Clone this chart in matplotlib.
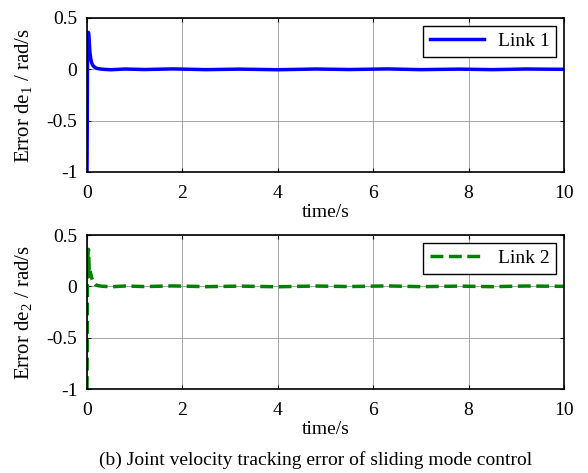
import matplotlib
matplotlib.use("Agg")
import matplotlib.pyplot as plt

plt.rcParams['font.family'] = ['Liberation Serif', 'DejaVu Serif']
plt.rcParams['mathtext.fontset'] = 'custom'
plt.rcParams['mathtext.rm'] = 'Liberation Serif'

# sampled tracking error, link 1
t1 = [0.0, 0.005, 0.01, 0.02, 0.03, 0.04, 0.05, 0.06, 0.08, 0.10, 0.12, 0.15, 0.18,
      0.22, 0.28, 0.35, 0.5, 0.8, 1.2, 1.8, 2.5, 3.2, 4.0, 4.8, 5.5, 6.3, 7.0, 7.8,
      8.5, 9.2, 10.0]
e1 = [-1.0, -0.6, 0.05, 0.30, 0.36, 0.33, 0.25, 0.17, 0.10, 0.06, 0.04, 0.025, 0.015,
      0.008, 0.003, 0.0, -0.004, 0.003, -0.002, 0.004, -0.003, 0.002, -0.004, 0.003,
      -0.002, 0.004, -0.003, 0.002, -0.003, 0.003, 0.0]

# sampled tracking error, link 2
t2 = [0.0, 0.005, 0.01, 0.02, 0.03, 0.04, 0.05, 0.06, 0.07, 0.08, 0.10, 0.12, 0.15,
      0.18, 0.22, 0.28, 0.35, 0.5, 0.8, 1.2, 1.8, 2.5, 3.2, 4.0, 4.8, 5.5, 6.3, 7.0,
      7.8, 8.5, 9.2, 10.0]
e2 = [-1.0, -0.6, 0.05, 0.30, 0.36, 0.25, 0.10, 0.12, 0.14, 0.12, 0.08, 0.05, 0.03,
      0.015, 0.008, 0.003, 0.0, -0.004, 0.003, -0.002, 0.004, -0.003, 0.002, -0.004,
      0.003, -0.002, 0.004, -0.003, 0.002, -0.003, 0.003, 0.0]

fig = plt.figure(figsize=(5.88, 4.73), dpi=100)
ax1 = fig.add_axes([87/588, 1 - 172/473, 477/588, 154/473])
ax2 = fig.add_axes([87/588, 1 - 389/473, 477/588, 154/473])

series = [
    (ax1, t1, e1, 'blue', '-', 'Link 1', r'Error de$_1$ / rad/s'),
    (ax2, t2, e2, 'green', '--', 'Link 2', r'Error de$_2$ / rad/s'),
]

for ax, t, e, c, ls, lab, ylab in series:
    ax.plot(t, e, color=c, ls=ls, lw=2.5, label=lab)
    ax.set_xlim(0, 10)
    ax.set_ylim(-1, 0.5)
    ax.set_xticks([0, 2, 4, 6, 8, 10])
    ax.set_yticks([-1, -0.5, 0, 0.5])
    ax.set_yticklabels(['-1', '-0.5', '0', '0.5'])
    ax.grid(True, color='#999999', lw=0.6)
    ax.tick_params(direction='in', labelsize=14, top=True, right=True, length=3)
    ax.tick_params(axis='x', pad=9)
    ax.tick_params(axis='y', pad=7)
    ax.set_xlabel('time/s', fontsize=14, labelpad=2)
    ax.set_ylabel(ylab, fontsize=15, labelpad=8)
    for s in ax.spines.values():
        s.set_linewidth(1.2)
    leg = ax.legend(loc='upper right', fontsize=14, fancybox=False, framealpha=1,
                    edgecolor='black', handlelength=2.8, borderaxespad=0.4,
                    borderpad=0.35, handletextpad=0.7)
    leg.get_frame().set_linewidth(1.0)

fig.text(316/588, 1 - 460/473, '(b) Joint velocity tracking error of sliding mode control',
         ha='center', va='center', fontsize=14)

fig.savefig('out.png', dpi=100)
